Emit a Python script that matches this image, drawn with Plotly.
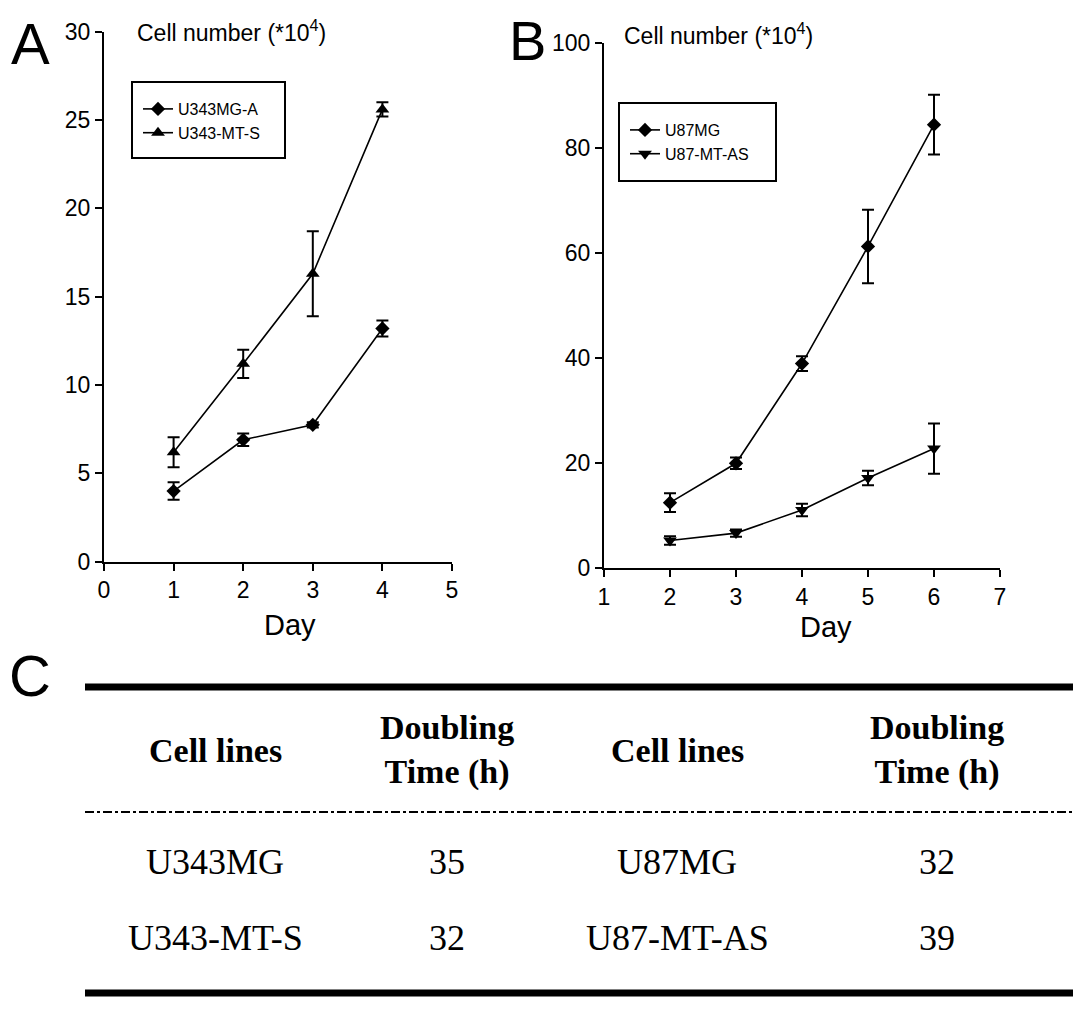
import plotly.graph_objects as go

W, H = 1087, 1010
OFF_X, OFF_Y = 8, 8   # page body margin

# ---- data -------------------------------------------------------------
days_a = [1, 2, 3, 4]
u343mg_a = [4.0, 6.9, 7.75, 13.2]
u343mg_a_err = [0.5, 0.35, 0.15, 0.45]
u343_mt_s = [6.2, 11.2, 16.3, 25.6]
u343_mt_s_err = [0.85, 0.8, 2.4, 0.4]

days_b = [2, 3, 4, 5, 6]
u87mg = [12.5, 20.0, 39.0, 61.3, 84.5]
u87mg_err = [1.8, 1.1, 1.4, 7.0, 5.7]
u87_mt_as = [5.3, 6.7, 11.1, 17.2, 22.8]
u87_mt_as_err = [0.8, 0.7, 1.2, 1.4, 4.8]

ticks_a_x = [0, 1, 2, 3, 4, 5]
ticks_a_y = [0, 5, 10, 15, 20, 25, 30]
ticks_b_x = [1, 2, 3, 4, 5, 6, 7]
ticks_b_y = [0, 20, 40, 60, 80, 100]

table_header = ["Cell lines", "Doubling<br>Time (h)", "Cell lines", "Doubling<br>Time (h)"]
table_rows = [["U343MG", "35", "U87MG", "32"],
              ["U343-MT-S", "32", "U87-MT-AS", "39"]]

# ---- helpers ----------------------------------------------------------
def px(x):
    return (x - OFF_X) / W

def py(y):
    return 1 - (y - OFF_Y) / H

SANS = "Liberation Sans, Arial, sans-serif"
SERIF = "Liberation Serif, Times New Roman, serif"

fig = go.Figure()

def add_series(x, y, err, name, symbol, size, xa, ya, legend):
    fig.add_trace(go.Scatter(
        x=x, y=y, name=name, mode="lines+markers",
        xaxis=xa, yaxis=ya, legend=legend,
        line=dict(color="black", width=1.6),
        marker=dict(symbol=symbol, size=size, color="black"),
        error_y=dict(type="data", array=err, visible=True,
                     color="black", thickness=2, width=6),
        cliponaxis=False,
    ))

add_series(days_a, u343mg_a, u343mg_a_err, "U343MG-A", "diamond", 11, "x", "y", "legend")
add_series(days_a, u343_mt_s, u343_mt_s_err, "U343-MT-S", "triangle-up", 12, "x", "y", "legend")
add_series(days_b, u87mg, u87mg_err, "U87MG", "diamond", 11, "x2", "y2", "legend2")
add_series(days_b, u87_mt_as, u87_mt_as_err, "U87-MT-AS", "triangle-down", 12, "x2", "y2", "legend2")

axis_common = dict(showline=True, linecolor="black", linewidth=2,
                   ticks="outside", ticklen=7, tickwidth=2, tickcolor="black",
                   showgrid=False, zeroline=False, automargin=False,
                   tickfont=dict(family=SANS, size=23, color="black"))

fig.update_layout(
    template="none",
    width=W, height=H, autosize=False,
    margin=dict(l=0, r=0, t=0, b=0, pad=0),
    paper_bgcolor="white", plot_bgcolor="white",
    xaxis=dict(domain=[px(104), px(452)], range=[0, 5], tickvals=ticks_a_x,
               anchor="y", **axis_common),
    yaxis=dict(domain=[py(561.7), py(31.7)], range=[0, 30], tickvals=ticks_a_y,
               anchor="x", **axis_common),
    xaxis2=dict(domain=[px(604), px(1000)], range=[1, 7], tickvals=ticks_b_x,
                anchor="y2", **axis_common),
    yaxis2=dict(domain=[py(568.3), py(43.3)], range=[0, 100], tickvals=ticks_b_y,
                anchor="x2", **axis_common),
    legend=dict(x=px(138), y=py(92), xanchor="left", yanchor="top",
                bgcolor="rgba(0,0,0,0)", borderwidth=0,
                font=dict(family=SANS, size=16, color="black"),
                tracegroupgap=0, itemwidth=30),
    legend2=dict(x=px(625), y=py(113), xanchor="left", yanchor="top",
                 bgcolor="rgba(0,0,0,0)", borderwidth=0,
                 font=dict(family=SANS, size=16, color="black"),
                 tracegroupgap=0, itemwidth=30),
    showlegend=True,
)

shapes = []
# legend boxes
shapes.append(dict(type="rect", xref="paper", yref="paper",
                   x0=px(132), x1=px(285), y0=py(158), y1=py(82),
                   line=dict(color="black", width=2)))
shapes.append(dict(type="rect", xref="paper", yref="paper",
                   x0=px(619), x1=px(776), y0=py(181), y1=py(103),
                   line=dict(color="black", width=2)))
# table rules
shapes.append(dict(type="line", xref="paper", yref="paper",
                   x0=px(85), x1=px(1073), y0=py(687), y1=py(687),
                   line=dict(color="black", width=7)))
shapes.append(dict(type="line", xref="paper", yref="paper",
                   x0=px(85), x1=px(1073), y0=py(812), y1=py(812),
                   line=dict(color="black", width=2, dash="dashdot")))
shapes.append(dict(type="line", xref="paper", yref="paper",
                   x0=px(85), x1=px(1073), y0=py(993), y1=py(993),
                   line=dict(color="black", width=7)))
fig.update_layout(shapes=shapes)

ann = []
# panel letters
for letter, x, y, size in [("A", 30, 43, 58), ("B", 527, 40, 56), ("C", 30, 675, 58)]:
    ann.append(dict(text=letter, x=px(x), y=py(y), xref="paper", yref="paper",
                    showarrow=False, xanchor="center", yanchor="middle",
                    font=dict(family=SANS, size=size, color="black")))
# y-axis titles
for x, y in [(135, 31), (622, 34)]:
    ann.append(dict(text="Cell number (*10<sup>4</sup>)", x=px(x), y=py(y),
                    xref="paper", yref="paper", showarrow=False,
                    xanchor="left", yanchor="middle",
                    font=dict(family=SANS, size=23, color="black")))
# x-axis titles
for x, y in [(290, 625), (826, 627)]:
    ann.append(dict(text="Day", x=px(x), y=py(y), xref="paper", yref="paper",
                    showarrow=False, xanchor="center", yanchor="middle",
                    font=dict(family=SANS, size=29, color="black")))

# table text
col_x = [215, 447, 677, 937]
header_y = 750
row_y = [862, 938]
for cx, txt in zip(col_x, table_header):
    ann.append(dict(text="<b>" + txt + "</b>", x=px(cx), y=py(header_y),
                    xref="paper", yref="paper", showarrow=False,
                    xanchor="center", yanchor="middle", align="center",
                    font=dict(family=SERIF, size=34, color="black")))
for ry, row in zip(row_y, table_rows):
    for cx, txt in zip(col_x, row):
        ann.append(dict(text=txt, x=px(cx), y=py(ry), xref="paper", yref="paper",
                        showarrow=False, xanchor="center", yanchor="middle",
                        font=dict(family=SERIF, size=36, color="black")))
fig.update_layout(annotations=ann)

fig.write_html("out.html")
